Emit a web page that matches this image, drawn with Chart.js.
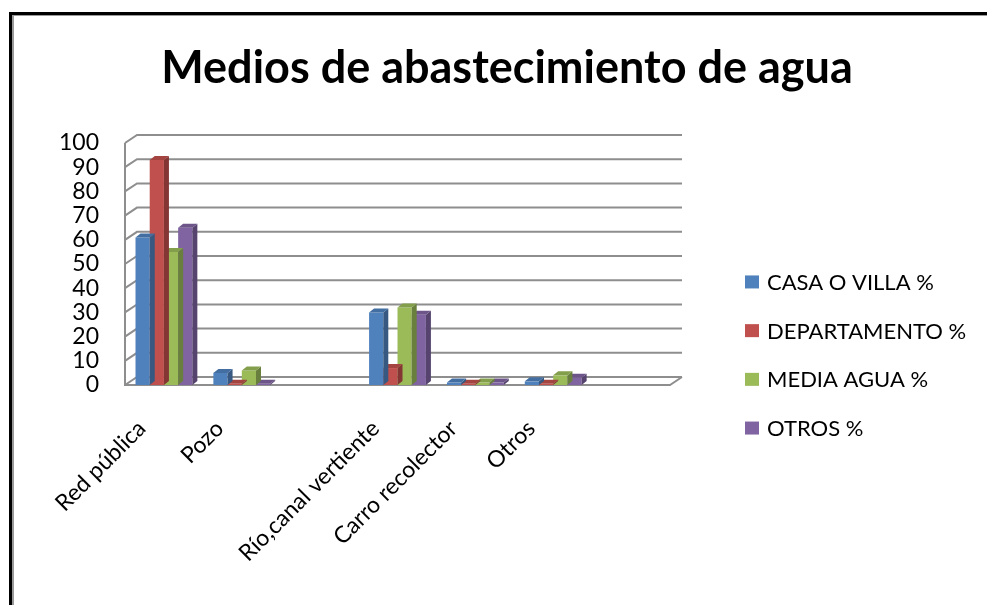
<!DOCTYPE html>
<html>
<head>
<meta charset="utf-8">
<script src="https://cdn.jsdelivr.net/npm/chart.js@4.4.0/dist/chart.umd.min.js"></script>
<style>
html, body { margin: 0; padding: 0; background: #fff; overflow: hidden; width: 987px; height: 605px; }
#frame { position: absolute; left: 9px; top: 12px; width: 1000px; height: 700px; border-left: 3px solid #000; border-top: 3px solid #000; }
#frame2 { position: absolute; left: 12px; top: 15px; width: 1000px; height: 700px; border-left: 2px solid #9a9a9a; border-top: 1px solid #9a9a9a; }
#wrap { position: absolute; left: 14px; top: 16px; width: 986px; height: 678px; }
</style>
</head>
<body>
<div id="frame"></div>
<div id="frame2"></div>
<div id="wrap"><canvas id="myChart" width="986" height="678"></canvas></div>
<script>
var categories = ['Red pública', 'Pozo', '', 'Río,canal vertiente', 'Carro recolector', 'Otros', ''];
var casaVilla    = [61, 5,   null, 30, 1,   1.5, null];
var departamento = [93, 0.5, null, 7,  0.5, 0.5, null];
var mediaAgua    = [55, 6,   null, 32, 1,   4,   null];
var otros        = [65, 0.5, null, 29, 1,   3,   null];
var yTicks = [0, 10, 20, 30, 40, 50, 60, 70, 80, 90, 100];

var seriesNames = ['CASA O VILLA %', 'DEPARTAMENTO %', 'MEDIA AGUA %', 'OTROS %'];
var colors = ['#4F81BD', '#C0504D', '#9BBB59', '#8064A2'];

// depth of the walls and of the bars (fake 3d like excel)
var DX = 12, DY = -8;
var BX = 5, BY = -4;

function shade(hex, f) {
  var n = parseInt(hex.slice(1), 16);
  var r = Math.round(((n >> 16) & 255) * f);
  var g = Math.round(((n >> 8) & 255) * f);
  var b = Math.round((n & 255) * f);
  return 'rgb(' + r + ',' + g + ',' + b + ')';
}

var walls = {
  id: 'walls',
  beforeDatasetsDraw: function (chart) {
    var ctx = chart.ctx, a = chart.chartArea, y = chart.scales.y;
    ctx.save();
    ctx.strokeStyle = '#8e8e8e';
    ctx.lineWidth = 2;
    yTicks.forEach(function (v) {
      var py = y.getPixelForValue(v);
      ctx.beginPath();
      ctx.moveTo(a.left, py);
      ctx.lineTo(a.left + DX, py + DY);
      ctx.lineTo(a.right + DX, py + DY);
      ctx.stroke();
    });
    var top = y.getPixelForValue(100), bot = y.getPixelForValue(0);
    ctx.beginPath();
    ctx.moveTo(a.left, top);
    ctx.lineTo(a.left, bot);
    ctx.lineTo(a.right, bot);
    ctx.lineTo(a.right + DX, bot + DY);
    ctx.stroke();
    ctx.restore();
  },
  afterDatasetDraw: function (chart, args) {
    var ctx = chart.ctx;
    var ds = chart.data.datasets[args.index];
    ctx.save();
    args.meta.data.forEach(function (bar, i) {
      if (ds.data[i] == null) return;
      var p = bar.getProps(['x', 'y', 'base', 'width'], true);
      var l = p.x - p.width / 2, r = p.x + p.width / 2;
      ctx.fillStyle = shade(ds.backgroundColor, 0.68);
      ctx.beginPath();
      ctx.moveTo(r, p.y);
      ctx.lineTo(r + BX, p.y + BY);
      ctx.lineTo(r + BX, p.base + BY);
      ctx.lineTo(r, p.base);
      ctx.closePath();
      ctx.fill();
      ctx.fillStyle = shade(ds.backgroundColor, 0.85);
      ctx.beginPath();
      ctx.moveTo(l, p.y);
      ctx.lineTo(l + BX, p.y + BY);
      ctx.lineTo(r + BX, p.y + BY);
      ctx.lineTo(r, p.y);
      ctx.closePath();
      ctx.fill();
    });
    ctx.restore();
  }
};

// legend drawn by hand, chart.js legend is too narrow next to the axis
var sideLegend = {
  id: 'sideLegend',
  afterDraw: function (chart) {
    var ctx = chart.ctx, a = chart.chartArea;
    var n = chart.data.datasets.length, step = 48.7;
    var bx = a.right + 75;
    var y0 = chart.height / 2 - step * (n - 1) / 2;
    ctx.save();
    ctx.font = '22px Lato';
    ctx.textBaseline = 'middle';
    chart.data.datasets.forEach(function (ds, i) {
      var cy = y0 + i * step;
      ctx.fillStyle = ds.backgroundColor;
      ctx.fillRect(bx, cy - 6.5, 14, 13);
      ctx.fillStyle = '#000';
      ctx.fillText(ds.label, bx + 22, cy + 1);
    });
    ctx.restore();
  }
};

var series = [casaVilla, departamento, mediaAgua, otros];
var datasets = series.map(function (d, i) {
  return {
    label: seriesNames[i],
    data: d,
    backgroundColor: colors[i],
    borderWidth: 0
  };
});

var ctx = document.getElementById('myChart');
var myChart = new Chart(ctx, {
  type: 'bar',
  data: { labels: categories, datasets: datasets },
  options: {
    responsive: false,
    animation: false,
    layout: { padding: 0 },
    datasets: { bar: { categoryPercentage: 0.73, barPercentage: 1 } },
    plugins: {
      title: {
        display: true,
        text: 'Medios de abastecimiento de agua',
        color: '#000',
        font: { family: 'Lato', size: 45, weight: 'bold' },
        padding: { top: 25, bottom: 48 }
      },
      legend: { display: false },
      tooltip: { enabled: false }
    },
    scales: {
      x: {
        grid: { display: false },
        border: { display: false },
        ticks: {
          color: '#000',
          autoSkip: false,
          maxRotation: 45,
          minRotation: 45,
          padding: 22,
          labelOffset: -22,
          font: { family: 'Lato', size: 23 }
        },
        afterFit: function (s) { s.height = 309; }
      },
      y: {
        min: 0,
        max: 100,
        grid: { display: false },
        border: { display: false },
        ticks: {
          stepSize: 10,
          autoSkip: false,
          color: '#000',
          padding: 18,
          font: { family: 'Lato', size: 23 }
        },
        afterFit: function (s) { s.width = 111; }
      },
      y2: {
        type: 'linear',
        position: 'right',
        display: false,
        afterFit: function (s) { s.width = 330; }
      }
    }
  },
  plugins: [walls, sideLegend]
});
</script>
</body>
</html>
